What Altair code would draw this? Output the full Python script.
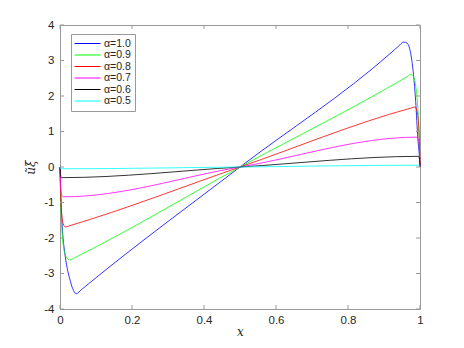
import altair as alt
import pandas as pd

# series
labels = ["α=1.0", "α=0.9", "α=0.8", "α=0.7", "α=0.6", "α=0.5"]
colors = ["#0000ff", "#00ff00", "#ff0000", "#ff00ff", "#000000", "#00ffff"]

x_a10 = [0, 0.003, 0.007, 0.013, 0.02, 0.027, 0.035, 0.045, 0.06, 0.078, 0.5,
         0.92, 0.94, 0.955, 0.965, 0.975, 0.982, 0.988, 0.994, 0.998, 1]
y_a10 = [0, -1.0, -1.8, -2.4, -2.85, -3.15, -3.42, -3.57, -3.45, -3.3, 0,
         3.22, 3.4, 3.52, 3.48, 3.15, 2.6, 1.85, 0.8, 0.35, 0]

x_a09 = [0, 0.002, 0.005, 0.009, 0.014, 0.02, 0.028, 0.04, 0.5,
         0.965, 0.975, 0.982, 0.988, 0.993, 0.997, 1]
y_a09 = [0, -0.9, -1.7, -2.2, -2.45, -2.58, -2.62, -2.56, 0,
         2.55, 2.61, 2.55, 2.3, 1.8, 1.0, 0]

x_a08 = [0, 0.002, 0.005, 0.009, 0.015, 0.025, 0.5,
         0.975, 0.986, 0.991, 0.995, 0.998, 1]
y_a08 = [0, -0.8, -1.35, -1.6, -1.69, -1.66, 0,
         1.66, 1.69, 1.6, 1.35, 0.8, 0]

x_a07 = [0, 0.002, 0.005, 0.01, 0.5, 0.99, 0.995, 0.998, 1]
y_a07 = [0, -0.6, -0.8, -0.84, 0, 0.84, 0.8, 0.6, 0]

x_a06 = [0, 0.0015, 0.004, 0.5, 0.996, 0.9985, 1]
y_a06 = [0, -0.22, -0.3, 0, 0.3, 0.22, 0]

x_a05 = [0, 0.002, 0.5, 0.998, 1]
y_a05 = [0, -0.05, 0, 0.05, 0]

x_ticks = [0, 0.2, 0.4, 0.6, 0.8, 1]
y_ticks = [-4, -3, -2, -1, 0, 1, 2, 3, 4]

series = [(x_a10, y_a10), (x_a09, y_a09), (x_a08, y_a08),
          (x_a07, y_a07), (x_a06, y_a06), (x_a05, y_a05)]
rows = []
for lab, (xs, ys) in zip(labels, series):
    for i, (xv, yv) in enumerate(zip(xs, ys)):
        rows.append({"series": lab, "x": xv, "y": yv, "i": i})
df = pd.DataFrame(rows)

W, H = 360, 284
frame = "#999999"
txt = "#262626"
xscale = alt.Scale(domain=[0, 1], nice=False, zero=False)
yscale = alt.Scale(domain=[-4, 4], nice=False, zero=False)

x_axis = alt.Axis(values=x_ticks, tickSize=0, domain=False, grid=False,
                  labelExpr="toString(datum.value)", labelPadding=5,
                  labelOverlap=False, labelFlush=False,
                  labelFontSize=11.5, labelColor=txt, labelFont="Liberation Sans",
                  title="x", titleFont="DejaVu Serif", titleFontStyle="italic",
                  titleFontWeight="normal", titleFontSize=12, titleColor=txt,
                  titlePadding=1)
y_axis = alt.Axis(values=y_ticks, tickSize=0, domain=False, grid=False,
                  labelExpr="toString(datum.value)", labelPadding=6,
                  labelOverlap=False, labelFlush=False,
                  labelFontSize=11.5, labelColor=txt, labelFont="Liberation Sans",
                  title="ũξ", titleFont="DejaVu Serif", titleFontStyle="italic",
                  titleFontWeight="normal", titleFontSize=12, titleColor=txt,
                  titleX=-30, titleY=142, titleAngle=270, titleBaseline="middle",
                  titleAlign="center")

lines = alt.Chart(df).mark_line(strokeWidth=0.8, interpolate="monotone").encode(
    x=alt.X("x:Q", scale=xscale, axis=x_axis),
    y=alt.Y("y:Q", scale=yscale, axis=y_axis),
    color=alt.Color("series:N", sort=labels,
                    scale=alt.Scale(domain=labels, range=colors),
                    legend=alt.Legend(title=None, orient="none", legendX=11, legendY=9,
                                      symbolType="M-2.6,0H2.6", symbolSize=100,
                                      symbolOffset=7,
                                      symbolStrokeWidth=1, labelFontSize=10.5,
                                      labelFont="Liberation Sans", labelColor=txt,
                                      strokeColor=frame, fillColor="white", padding=4,
                                      rowPadding=0.5, labelOffset=11)),
    order="i:Q",
)

xt = pd.DataFrame({"x": x_ticks})
yt = pd.DataFrame({"y": y_ticks})
tick_len = 4
xb = alt.Chart(xt).mark_rule(color=frame, strokeWidth=1).encode(
    x=alt.X("x:Q", scale=xscale, axis=x_axis), y=alt.value(H), y2=alt.value(H - tick_len))
xtop = alt.Chart(xt).mark_rule(color=frame, strokeWidth=1).encode(
    x=alt.X("x:Q", scale=xscale, axis=x_axis), y=alt.value(0), y2=alt.value(tick_len))
yl = alt.Chart(yt).mark_rule(color=frame, strokeWidth=1).encode(
    y=alt.Y("y:Q", scale=yscale, axis=y_axis), x=alt.value(0), x2=alt.value(tick_len))
yr = alt.Chart(yt).mark_rule(color=frame, strokeWidth=1).encode(
    y=alt.Y("y:Q", scale=yscale, axis=y_axis), x=alt.value(W), x2=alt.value(W - tick_len))

chart = alt.layer(lines, xb, xtop, yl, yr).properties(
    width=W, height=H,
    autosize=alt.AutoSizeParams(type="none"),
    padding={"left": 52, "top": 17, "right": 36, "bottom": 31},
    background="white",
).configure_view(stroke=frame, strokeWidth=1)

chart.save("out.html", embed_options={"renderer": "svg", "actions": False})
